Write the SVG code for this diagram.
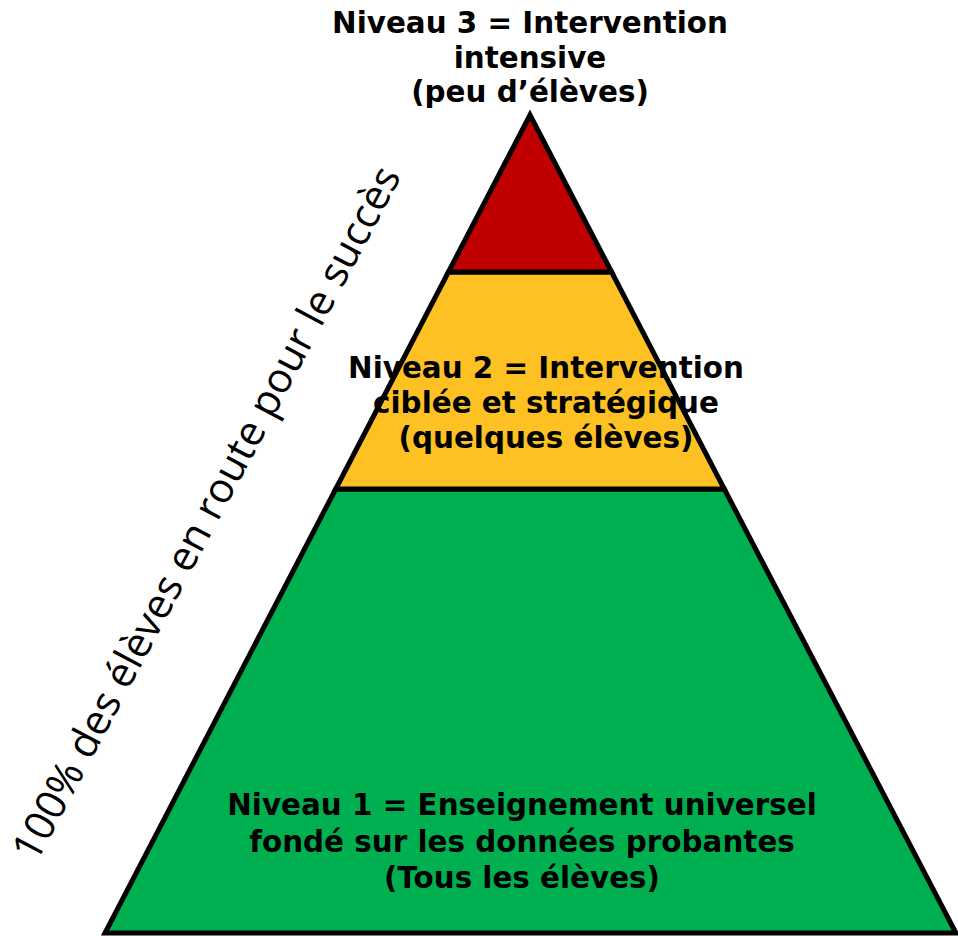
<svg xmlns="http://www.w3.org/2000/svg" width="958" height="936" viewBox="0 0 958 936">
  <style>
    .tier { stroke: #000; stroke-width: 5; stroke-linejoin: miter; stroke-miterlimit: 10; }
    .lbl { font-family: "DejaVu Sans", Verdana, sans-serif; font-weight: bold; font-size: 29.4px; fill: #000; text-anchor: middle; }
    .side { font-family: "Open Sans", "Liberation Sans", sans-serif; font-size: 41.5px; fill: #000; }
  </style>
  <rect width="958" height="936" fill="#fff"/>

  <!-- Base tier: universal teaching -->
  <g id="tier1">
    <polygon class="tier" fill="#00B050" points="335.7,489 724.3,489 956,933 105,933"/>
    <text class="lbl" x="522" y="815">Niveau 1 = Enseignement universel</text>
    <text class="lbl" x="522" y="852">fondé sur les données probantes</text>
    <text class="lbl" x="522" y="888">(Tous les élèves)</text>
  </g>

  <!-- Middle tier: targeted intervention -->
  <g id="tier2">
    <polygon class="tier" fill="#FDC124" points="448.4,272 611.6,272 724.3,489 335.7,489"/>
    <text class="lbl" x="546" y="378">Niveau 2 = Intervention</text>
    <text class="lbl" x="546" y="413">ciblée et stratégique</text>
    <text class="lbl" x="546" y="448">(quelques élèves)</text>
  </g>

  <!-- Top tier: intensive intervention -->
  <g id="tier3">
    <polygon class="tier" fill="#C00000" points="530,115 611.6,272 448.4,272"/>
    <text class="lbl" x="530" y="33">Niveau 3 = Intervention</text>
    <text class="lbl" x="530" y="68">intensive</text>
    <text class="lbl" x="530" y="102">(peu d’élèves)</text>
  </g>

  <!-- Slanted caption along the left flank -->
  <g id="caption">
    <text class="side" transform="translate(36,864) rotate(-62)">100% des élèves en route pour le succès</text>
  </g>
</svg>
